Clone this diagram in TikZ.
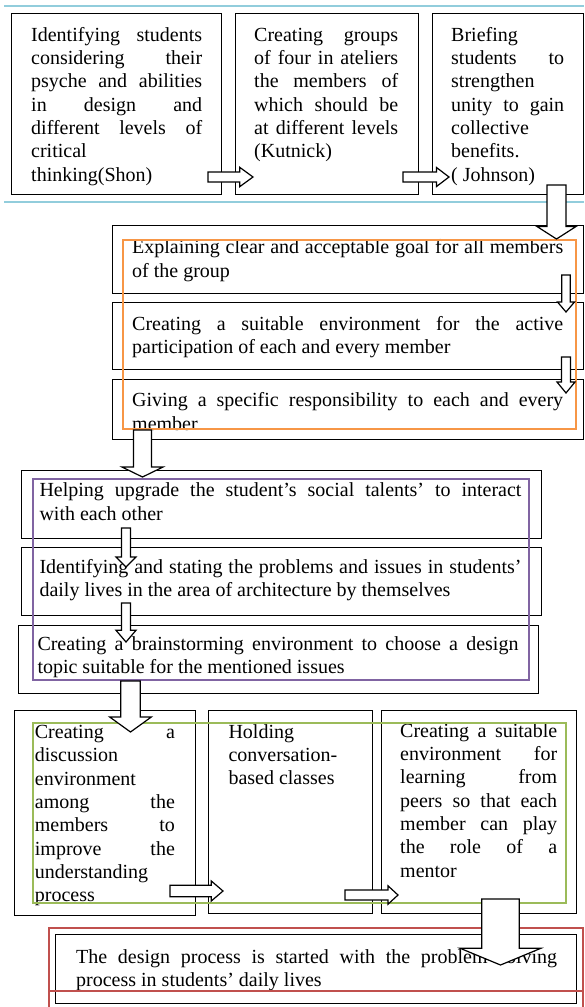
\documentclass[tikz,border=0pt]{standalone}
\usepackage{fontspec}
\setmainfont{Liberation Serif}
\usetikzlibrary{calc}
\definecolor{ruleblue}{HTML}{92CDDC}
\definecolor{grporange}{HTML}{F79646}
\definecolor{grppurple}{HTML}{8064A2}
\definecolor{grpgreen}{HTML}{9BBB59}
\definecolor{grpred}{HTML}{C0504D}
\setlength{\parindent}{0pt}
\hyphenpenalty=10000
\tolerance=10000
\hbadness=10000
% block arrows: tail, tip, shaft half width, head half width, head length
\newcommand{\fatright}[5]{\draw[fatarrow] ($(#1)+(0,-#3)$) -- ($(#2)+(-#5,-#3)$) -- ($(#2)+(-#5,-#4)$) -- (#2) -- ($(#2)+(-#5,#4)$) -- ($(#2)+(-#5,#3)$) -- ($(#1)+(0,#3)$) -- cycle;}
\newcommand{\fatdown}[5]{\draw[fatarrow] ($(#1)+(-#3,0)$) -- ($(#2)+(-#3,-#5)$) -- ($(#2)+(-#4,-#5)$) -- (#2) -- ($(#2)+(#4,-#5)$) -- ($(#2)+(#3,-#5)$) -- ($(#1)+(#3,0)$) -- cycle;}

\begin{document}
\begin{tikzpicture}[x=1pt, y=-1pt,
    box/.style={rectangle, draw, line width=1.3pt, anchor=north west, inner sep=0pt},
    txt/.style={anchor=north west, inner sep=0pt, align=justify, font=\fontsize{20}{23.3}\selectfont},
    fatarrow/.style={draw, fill=white, line width=1.2pt, line join=miter},
    frame/.style={line width=1.5pt},
    rule/.style={ruleblue, line width=2pt}]
    \useasboundingbox (0,0) rectangle (584,1007);

    % rules
    \draw[rule] (4,6) -- (584,6);
    \draw[rule] (4,201.7) -- (584,201.7);

    % boxes
    \node[box, minimum width=210, minimum height=181] (b1) at (11,13) {};
    \node[box, minimum width=183, minimum height=181] (b2) at (235,13) {};
    \node[box, minimum width=151, minimum height=181] (b3) at (432,13) {};
    \node[box, minimum width=471, minimum height=68] (goal) at (112,225) {};
    \node[box, minimum width=471, minimum height=67] (envir) at (112,302) {};
    \node[box, minimum width=471, minimum height=60] (resp) at (112,379) {};
    \node[box, minimum width=520, minimum height=68] (social) at (21,470) {};
    \node[box, minimum width=520, minimum height=68] (issues) at (21,547) {};
    \node[box, minimum width=520, minimum height=68] (brain) at (18,625) {};
    \node[box, minimum width=181, minimum height=205] (discuss) at (14,710) {};
    \node[box, minimum width=164, minimum height=203] (conv) at (208,710) {};
    \node[box, minimum width=195, minimum height=203] (peers) at (381,710) {};
    \node[box, minimum width=521, minimum height=69] (design) at (55,934) {};

    % texts
    \node[txt, text width=171] (t1) at (31,24.7) {\strut Identifying students\linebreak considering their\linebreak psyche and abilities\linebreak in design and\linebreak different levels of\linebreak critical\linebreak thinking(Shon)};
    \node[txt, text width=144] (t2) at (254,24.7) {\strut Creating groups\linebreak of four in ateliers\linebreak the members of\linebreak which should be\linebreak at different levels\linebreak (Kutnick)};
    \node[txt, text width=113] (t3) at (451,24.7) {\strut Briefing\linebreak students to\linebreak strengthen\linebreak unity to gain\linebreak collective\linebreak benefits.\linebreak ( Johnson)};
    \node[txt, text width=431] (tgoal) at (132,237.4) {\strut Explaining clear and acceptable goal for all members\linebreak of the group};
    \node[txt, text width=431] (tenvir) at (132,313.7) {\strut Creating a suitable environment for the active\linebreak participation of each and every member};
    \node[txt, text width=431] (tresp) at (132,390.4) {\strut Giving a specific responsibility to each and every\linebreak member};
    \node[txt, text width=482] (tsocial) at (39.3,480.4) {\strut Helping upgrade the student’s social talents’ to interact\linebreak with each other};
    \node[txt, text width=482] (tissues) at (39.3,557) {\strut Identifying and stating the problems and issues in students’\linebreak daily lives in the area of architecture by themselves};
    \node[txt, text width=481] (tbrain) at (37.3,633.7) {\strut Creating a brainstorming environment to choose a design\linebreak topic suitable for the mentioned issues};
    \node[txt, text width=140] (tdiscuss) at (34.7,722) {\strut Creating a\linebreak discussion\linebreak environment\linebreak among the\linebreak members to\linebreak improve the\linebreak understanding\linebreak process};
    \node[txt, text width=140] (tconv) at (228.3,721.7) {\strut Holding\linebreak conversation-\linebreak based classes};
    \node[txt, text width=157] (tpeers) at (400,720.7) {\strut Creating a suitable\linebreak environment for\linebreak learning from\linebreak peers so that each\linebreak member can play\linebreak the role of a\linebreak mentor};
    \node[txt, text width=481] (tdesign) at (76,947) {\strut The design process is started with the problem solving\linebreak process in students’ daily lives};

    % group frames
    \draw[frame, grporange] (123,240) rectangle (576,429);
    \draw[frame, grppurple] (33,479) rectangle (529,680);
    \draw[frame, grpgreen] (33,723) rectangle (566,903);
    \draw[frame, grpred] (49,1007) -- (49,928) -- (583,928) -- (583,1007);
    \draw[frame, grpred] (49,991) -- (583,991);

    % arrows
    \coordinate (a12s) at (208,177);   \coordinate (a12e) at (253,177);
    \coordinate (a23s) at (403,177);   \coordinate (a23e) at (449,177);
    \coordinate (a3s) at (556.5,185);  \coordinate (a3e) at (556.5,239);
    \coordinate (agos) at (566,275);   \coordinate (agoe) at (566,312);
    \coordinate (aens) at (566,357);   \coordinate (aene) at (566,393);
    \coordinate (ares) at (142.5,430); \coordinate (aree) at (142.5,477);
    \coordinate (asos) at (126,528);   \coordinate (asoe) at (126,567);
    \coordinate (aiss) at (126,603);   \coordinate (aise) at (126,642);
    \coordinate (abrs) at (130.5,681); \coordinate (abre) at (130.5,732);
    \coordinate (adis) at (170,891);   \coordinate (adie) at (223,891);
    \coordinate (acos) at (345,895);   \coordinate (acoe) at (398,895);
    \coordinate (apes) at (500.5,899); \coordinate (apee) at (500.5,965);

    \fatright{a12s}{a12e}{5}{9.7}{13.3}
    \fatright{a23s}{a23e}{5}{9.5}{12.5}
    \fatdown{a3s}{a3e}{9.5}{19.5}{12.5}
    \fatdown{agos}{agoe}{4.2}{8.5}{10}
    \fatdown{aens}{aene}{4.5}{9}{11}
    \fatdown{ares}{aree}{9}{20.5}{10}
    \fatdown{asos}{asoe}{4.5}{10}{10}
    \fatdown{aiss}{aise}{4.5}{10}{11.7}
    \fatdown{abrs}{abre}{9.7}{20.8}{15}
    \fatright{adis}{adie}{5.8}{10}{11.7}
    \fatright{acos}{acoe}{5}{9.2}{10}
    \fatdown{apes}{apee}{18.8}{40.3}{16.7}
\end{tikzpicture}
\end{document}
